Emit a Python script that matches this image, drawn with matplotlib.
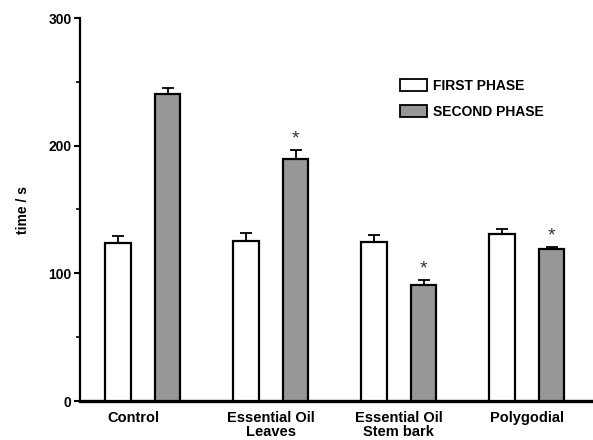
import numpy as np
import matplotlib.pyplot as plt
from matplotlib.patches import Patch
from matplotlib.transforms import ScaledTranslation

plt.rcParams['font.family'] = ['Liberation Sans', 'DejaVu Sans']
plt.rcParams['font.weight'] = 'bold'

# ==========================================
# Data
# ==========================================
groups = ['Control', 'Essential Oil\nLeaves', 'Essential Oil\nStem bark', 'Polygodial']
first_phase = [123.5, 125.3, 124.2, 130.5]
first_err = [5.5, 6.5, 5.8, 4.4]
second_phase = [240.6, 189.3, 90.8, 119.0]
second_err = [4.4, 7.0, 4.0, 1.8]
signif = [False, True, True, True]  # star above second phase

fig = plt.figure(figsize=(5.93, 4.40), dpi=100)
ax = fig.add_axes([80/593, 39/440, 513/593, 383/440])

x = np.arange(len(groups))
off = 0.195
w = 0.2

ax.bar(x - off, first_phase, w, color='white', edgecolor='black', linewidth=1.6, zorder=3)
ax.bar(x + off, second_phase, w, color='#979797', edgecolor='black', linewidth=1.6, zorder=3)

zeros = np.zeros(len(groups))
ax.errorbar(x - off, first_phase, yerr=[zeros, first_err], fmt='none',
            ecolor='black', elinewidth=1.3, capsize=4.5, capthick=1.3, zorder=2)
ax.errorbar(x + off, second_phase, yerr=[zeros, second_err], fmt='none',
            ecolor='black', elinewidth=1.3, capsize=4.5, capthick=1.3, zorder=2)

for i in range(len(groups)):
    if signif[i]:
        ax.text(x[i] + off, second_phase[i] + second_err[i] + 2, '*',
                ha='center', va='bottom', fontsize=14, fontweight='normal', color='#333333')

ax.set_xlim(-0.49, -0.49 + 513/128)
ax.set_ylim(0, 300)
ax.set_yticks([0, 100, 200, 300])
ax.set_yticks([50, 150, 250], minor=True)
ax.set_xticks(x)
ax.set_xticklabels(groups, fontsize=10.5, linespacing=1.05)
ax.tick_params(axis='x', length=0, pad=7)
ax.tick_params(axis='y', which='major', length=4, width=1.5, labelsize=10, pad=2)
ax.tick_params(axis='y', which='minor', length=3, width=1.2)
ax.set_ylabel('time / s', fontsize=10, fontweight='bold', labelpad=13)

# the "Control" label sits a bit left of its group in the original
lbl = ax.get_xticklabels()[0]
lbl.set_transform(lbl.get_transform() + ScaledTranslation(-0.09, 0, fig.dpi_scale_trans))

ax.spines['top'].set_visible(False)
ax.spines['right'].set_visible(False)
ax.spines['left'].set_linewidth(1.6)
ax.spines['bottom'].set_linewidth(2.4)

handles = [Patch(facecolor='white', edgecolor='black', linewidth=1.3),
           Patch(facecolor='#979797', edgecolor='black', linewidth=1.3)]
fig.legend(handles, ['FIRST PHASE', 'SECOND PHASE'], loc='upper left',
           bbox_to_anchor=(387/593, 1 - 66/440), frameon=False,
           fontsize=10, handlelength=2.0, handleheight=1.0,
           handletextpad=0.4, labelspacing=0.9)

fig.savefig('out.png', dpi=100)
